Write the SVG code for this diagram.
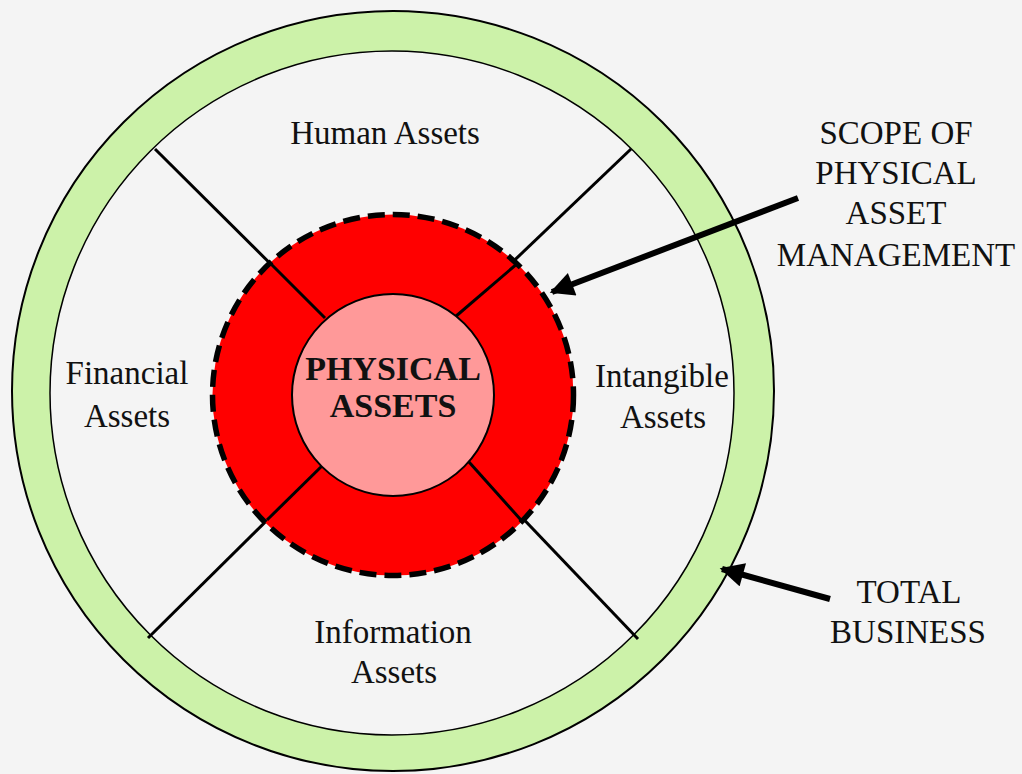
<svg xmlns="http://www.w3.org/2000/svg" width="1022" height="774" viewBox="0 0 1022 774">
<style>
.t{font-family:"Liberation Serif","Times New Roman",serif;font-size:33px;fill:#111;text-anchor:middle}
.b{font-weight:bold;font-size:34px}
.div{stroke:#000;stroke-width:3;fill:none}
.arr{stroke:#000;stroke-width:6;fill:none}
</style>
<defs>
<marker id="ah" viewBox="0 0 10 10" refX="9" refY="5" markerWidth="4.2" markerHeight="4" markerUnits="strokeWidth" orient="auto">
<path d="M0,0 L10,5 L0,10 z" fill="#000"/>
</marker>
</defs>
<rect width="1022" height="774" fill="#f4f4f4"/>
<g id="total-business">
<ellipse cx="393" cy="391" rx="381" ry="380" fill="#ccf2a9" stroke="#000" stroke-width="2"/>
<ellipse cx="392" cy="393" rx="342" ry="342" fill="#f4f4f4" stroke="#000" stroke-width="1.5"/>
</g>
<g id="connectors">
<line class="div" x1="155" y1="149" x2="325" y2="318"/>
<line class="div" x1="631" y1="149" x2="455" y2="317"/>
<line class="div" x1="148" y1="638" x2="326" y2="462"/>
<line class="div" x1="638" y1="639" x2="469" y2="462"/>
<line class="arr" x1="798" y1="198" x2="552" y2="292" marker-end="url(#ah)"/>
<line class="arr" x1="830" y1="599" x2="722" y2="569" marker-end="url(#ah)"/>
</g>
<g id="scope">
<circle cx="393" cy="395" r="180.5" fill="#ff0000"/>
<circle cx="393" cy="395" r="180.5" fill="none" stroke="#000" stroke-width="5.5" stroke-dasharray="17 8"/>
<line class="div" x1="270" y1="263" x2="325" y2="318"/>
<line class="div" x1="518" y1="263" x2="455" y2="317"/>
<line class="div" x1="267" y1="520" x2="326" y2="462"/>
<line class="div" x1="521" y1="520" x2="469" y2="462"/>
</g>
<g id="physical-assets">
<circle cx="393" cy="395" r="101" fill="#ff9999" stroke="#000" stroke-width="2"/>
<text class="t b" x="393" y="380">PHYSICAL</text>
<text class="t b" x="393" y="417">ASSETS</text>
</g>
<g id="human-assets"><text class="t" x="385" y="144">Human Assets</text></g>
<g id="financial-assets"><text class="t" x="127" y="384">Financial</text><text class="t" x="127" y="427">Assets</text></g>
<g id="intangible-assets"><text class="t" x="662" y="387">Intangible</text><text class="t" x="663" y="428">Assets</text></g>
<g id="information-assets"><text class="t" x="393" y="643">Information</text><text class="t" x="394" y="683">Assets</text></g>
<g id="scope-label">
<text class="t" x="896" y="144">SCOPE OF</text>
<text class="t" x="896" y="184">PHYSICAL</text>
<text class="t" x="896" y="224">ASSET</text>
<text class="t" x="896" y="266">MANAGEMENT</text>
</g>
<g id="total-label">
<text class="t" x="909" y="603">TOTAL</text>
<text class="t" x="908" y="643">BUSINESS</text>
</g>
</svg>
